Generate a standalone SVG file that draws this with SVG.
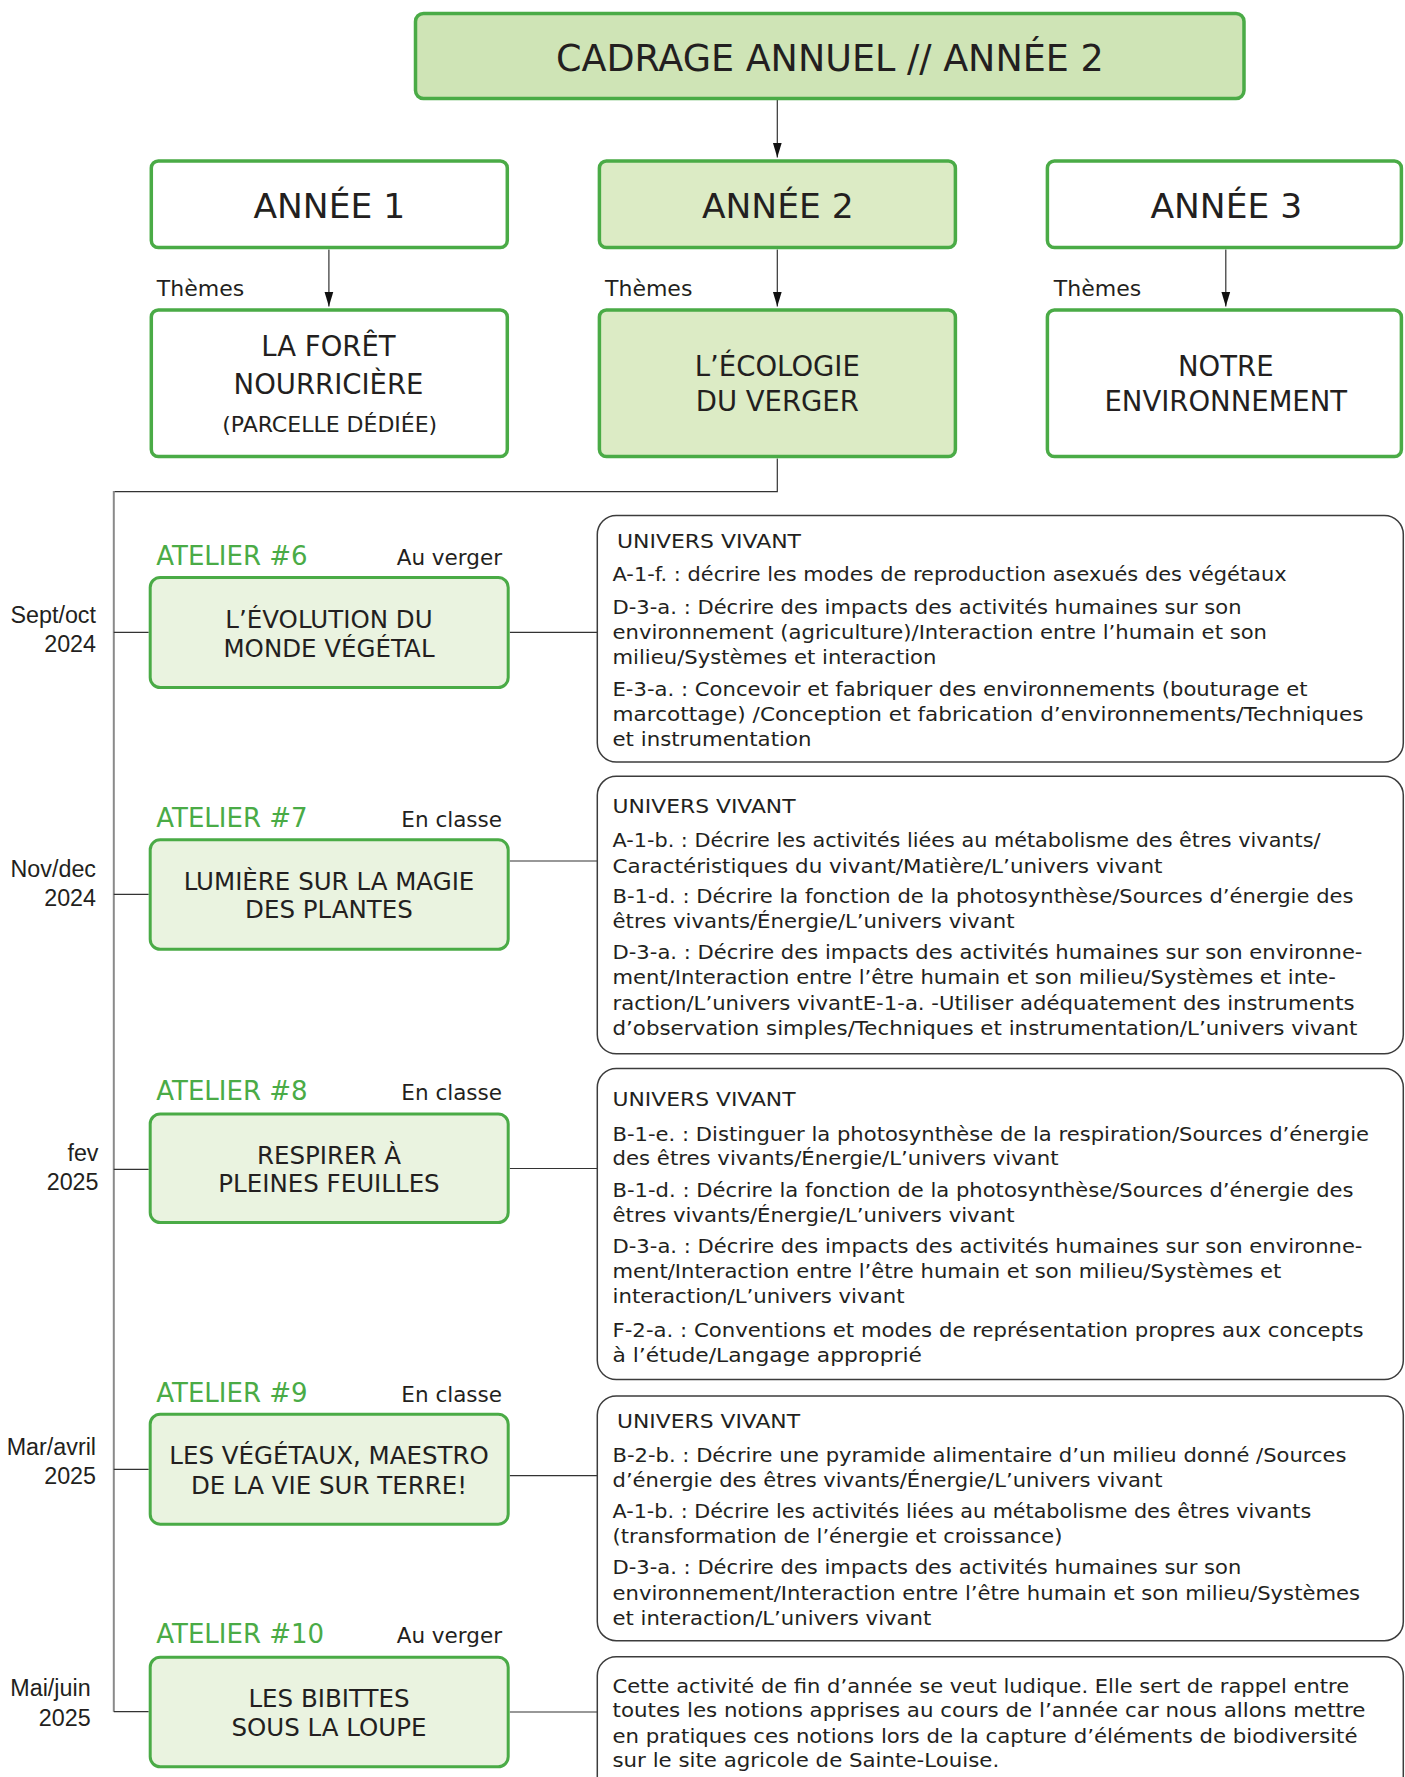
<svg xmlns="http://www.w3.org/2000/svg" width="1405" height="1777" viewBox="0 0 1405 1777">
<style>
.gbox{stroke:#4aab46;stroke-width:3.5}
.abox{fill:#eaf3e0;stroke:#4aab46;stroke-width:3}
.ibox{fill:#ffffff;stroke:#3c3c3c;stroke-width:1.5}
.t{font-family:"DejaVu Sans",sans-serif;fill:#231f20}
.big{font-size:34.5px;text-anchor:middle}
.theme{font-size:27.5px;text-anchor:middle}
.lab{font-size:22px}
.atl{font-family:"DejaVu Sans",sans-serif;font-size:26px;fill:#4aab46}
.loc{font-size:21.5px;text-anchor:end}
.an{font-size:24.5px;text-anchor:middle}
.body{font-size:19px}
.hd{font-size:20px}
.date{font-family:"Liberation Sans",Arial,sans-serif;font-size:23.3px;fill:#231f20;text-anchor:end}
.ln{fill:none;stroke:#333;stroke-width:1.2}
.vl{fill:none;stroke:#8a8a8a;stroke-width:2}
</style>
<defs>
<marker id="arrv" markerUnits="userSpaceOnUse" viewBox="0 0 15 10" markerWidth="15" markerHeight="10" refX="15" refY="5" orient="auto">
<path d="M0,0.5 L15,5 L0,9.5 Z" fill="#111"/>
</marker>
</defs>
<rect width="1405" height="1777" fill="#ffffff"/>

<g id="connectors">
<path class="ln" d="M777.3,100 V157.5" marker-end="url(#arrv)"/>
<path class="ln" d="M328.9,249.5 V306.5" marker-end="url(#arrv)"/>
<path class="ln" d="M777.3,249.5 V306.5" marker-end="url(#arrv)"/>
<path class="ln" d="M1225.8,249.5 V306.5" marker-end="url(#arrv)"/>
<path class="ln" d="M777.3,458.5 V491.7 H113.8"/>
<path class="vl" d="M113.8,491 V1711.7"/>
<path class="ln" d="M113.8,632.3 H148.7"/>
<path class="ln" d="M113.8,894.3 H148.7"/>
<path class="ln" d="M113.8,1169.3 H148.7"/>
<path class="ln" d="M113.8,1469.3 H148.7"/>
<path class="ln" d="M113.8,1711.7 H148.7"/>
<path class="ln" d="M509.8,632.3 H597.3"/>
<path class="ln" d="M509.8,861 H597.3"/>
<path class="ln" d="M509.8,1168.5 H597.3"/>
<path class="ln" d="M509.8,1475.7 H597.3"/>
<path class="ln" d="M509.8,1712 H597.3"/>
</g>

<g id="title">
<rect class="gbox" x="415.5" y="13.5" width="828.5" height="85" rx="8" fill="#cfe4b6"/>
<text class="t" x="829.8" y="70.7" font-size="36.5" text-anchor="middle">CADRAGE ANNUEL // ANNÉE 2</text>
</g>

<g id="annee1">
<rect class="gbox" x="151.3" y="161" width="356" height="86.5" rx="7" fill="#ffffff"/>
<text class="t big" x="329.3" y="218.3">ANNÉE 1</text>
</g>
<g id="annee2">
<rect class="gbox" x="599.4" y="161" width="356" height="86.5" rx="7" fill="#dcebc5"/>
<text class="t big" x="777.8" y="218.3">ANNÉE 2</text>
</g>
<g id="annee3">
<rect class="gbox" x="1047.4" y="161" width="354" height="86.5" rx="7" fill="#ffffff"/>
<text class="t big" x="1226.3" y="218.3">ANNÉE 3</text>
</g>

<g id="themes-labels">
<text class="t lab" x="156.8" y="296">Thèmes</text>
<text class="t lab" x="605" y="296">Thèmes</text>
<text class="t lab" x="1053.8" y="296">Thèmes</text>
</g>

<g id="theme1">
<rect class="gbox" x="151.3" y="310" width="356" height="146.5" rx="7" fill="#ffffff"/>
<text class="t theme" x="328.5" y="356">LA FORÊT</text>
<text class="t theme" x="328.5" y="394.3">NOURRICIÈRE</text>
<text class="t" x="329.7" y="431.7" font-size="22" text-anchor="middle">(PARCELLE DÉDIÉE)</text>
</g>
<g id="theme2">
<rect class="gbox" x="599.4" y="310" width="356" height="146.5" rx="7" fill="#dcebc5"/>
<text class="t theme" x="777.3" y="375.7">L’ÉCOLOGIE</text>
<text class="t theme" x="777.3" y="410.7">DU VERGER</text>
</g>
<g id="theme3">
<rect class="gbox" x="1047.4" y="310" width="354" height="146.5" rx="7" fill="#ffffff"/>
<text class="t theme" x="1225.8" y="375.7">NOTRE</text>
<text class="t theme" x="1225.8" y="410.7">ENVIRONNEMENT</text>
</g>

<g id="atelier6">
<text class="atl" x="156.3" y="565">ATELIER #6</text>
<text class="t loc" x="502" y="565">Au verger</text>
<rect class="abox" x="150.2" y="577.5" width="358" height="110" rx="10"/>
<text class="t an" x="329" y="628.3">L’ÉVOLUTION DU</text>
<text class="t an" x="329" y="656.7">MONDE VÉGÉTAL</text>
<text class="date" x="96" y="623.3">Sept/oct</text>
<text class="date" x="96" y="651.7">2024</text>
</g>

<g id="atelier7">
<text class="atl" x="156.3" y="826.7">ATELIER #7</text>
<text class="t loc" x="502" y="826.7">En classe</text>
<rect class="abox" x="150.2" y="839.8" width="358" height="109.5" rx="10"/>
<text class="t an" x="329" y="890">LUMIÈRE SUR LA MAGIE</text>
<text class="t an" x="329" y="918.3">DES PLANTES</text>
<text class="date" x="96" y="876.7">Nov/dec</text>
<text class="date" x="96" y="906">2024</text>
</g>

<g id="atelier8">
<text class="atl" x="156.3" y="1100">ATELIER #8</text>
<text class="t loc" x="502" y="1100">En classe</text>
<rect class="abox" x="150.2" y="1114" width="358" height="108.5" rx="10"/>
<text class="t an" x="329" y="1163.7">RESPIRER À</text>
<text class="t an" x="329" y="1192">PLEINES FEUILLES</text>
<text class="date" x="98.5" y="1161">fev</text>
<text class="date" x="98.5" y="1190">2025</text>
</g>

<g id="atelier9">
<text class="atl" x="156.3" y="1401.7">ATELIER #9</text>
<text class="t loc" x="502" y="1401.7">En classe</text>
<rect class="abox" x="150.2" y="1414.2" width="358" height="110" rx="10"/>
<text class="t an" x="329" y="1464">LES VÉGÉTAUX, MAESTRO</text>
<text class="t an" x="329" y="1494">DE LA VIE SUR TERRE!</text>
<text class="date" x="96" y="1455">Mar/avril</text>
<text class="date" x="96" y="1484">2025</text>
</g>

<g id="atelier10">
<text class="atl" x="156.3" y="1643.3">ATELIER #10</text>
<text class="t loc" x="502" y="1643.3">Au verger</text>
<rect class="abox" x="150.2" y="1657.2" width="358" height="109.6" rx="10"/>
<text class="t an" x="329" y="1707.3">LES BIBITTES</text>
<text class="t an" x="329" y="1736">SOUS LA LOUPE</text>
<text class="date" x="90.6" y="1696">Mai/juin</text>
<text class="date" x="90.6" y="1725.7">2025</text>
</g>

<g id="info6">
<rect class="ibox" x="597.3" y="515.5" width="806" height="246.5" rx="19"/>
<text class="t hd" x="617" y="547.5" textLength="184" lengthAdjust="spacingAndGlyphs">UNIVERS VIVANT</text>
<text class="t body" x="612.5" y="581.4" textLength="674" lengthAdjust="spacingAndGlyphs">A-1-f. : décrire les modes de reproduction asexués des végétaux</text>
<text class="t body" x="612.5" y="613.6" textLength="629" lengthAdjust="spacingAndGlyphs">D-3-a. : Décrire des impacts des activités humaines sur son</text>
<text class="t body" x="612.5" y="638.6" textLength="654.5" lengthAdjust="spacingAndGlyphs">environnement (agriculture)/Interaction entre l’humain et son</text>
<text class="t body" x="612.5" y="664.3" textLength="324" lengthAdjust="spacingAndGlyphs">milieu/Systèmes et interaction</text>
<text class="t body" x="612.5" y="695.7" textLength="695" lengthAdjust="spacingAndGlyphs">E-3-a. : Concevoir et fabriquer des environnements (bouturage et</text>
<text class="t body" x="612.5" y="720.7" textLength="751" lengthAdjust="spacingAndGlyphs">marcottage) /Conception et fabrication d’environnements/Techniques</text>
<text class="t body" x="612.5" y="746.4" textLength="199" lengthAdjust="spacingAndGlyphs">et instrumentation</text>
</g>

<g id="info7">
<rect class="ibox" x="597.3" y="776.3" width="806" height="277.5" rx="19"/>
<text class="t hd" x="612.5" y="812.9" textLength="183" lengthAdjust="spacingAndGlyphs">UNIVERS VIVANT</text>
<text class="t body" x="612.5" y="847" textLength="708" lengthAdjust="spacingAndGlyphs">A-1-b. : Décrire les activités liées au métabolisme des êtres vivants/</text>
<text class="t body" x="612.5" y="872.5" textLength="550" lengthAdjust="spacingAndGlyphs">Caractéristiques du vivant/Matière/L’univers vivant</text>
<text class="t body" x="612.5" y="902.9" textLength="741" lengthAdjust="spacingAndGlyphs">B-1-d. : Décrire la fonction de la photosynthèse/Sources d’énergie des</text>
<text class="t body" x="612.5" y="927.9" textLength="402" lengthAdjust="spacingAndGlyphs">êtres vivants/Énergie/L’univers vivant</text>
<text class="t body" x="612.5" y="959" textLength="750" lengthAdjust="spacingAndGlyphs">D-3-a. : Décrire des impacts des activités humaines sur son environne-</text>
<text class="t body" x="612.5" y="984" textLength="723.5" lengthAdjust="spacingAndGlyphs">ment/Interaction entre l’être humain et son milieu/Systèmes et inte-</text>
<text class="t body" x="612.5" y="1009.6" textLength="742" lengthAdjust="spacingAndGlyphs">raction/L’univers vivantE-1-a. -Utiliser adéquatement des instruments</text>
<text class="t body" x="612.5" y="1034.6" textLength="745" lengthAdjust="spacingAndGlyphs">d’observation simples/Techniques et instrumentation/L’univers vivant</text>
</g>

<g id="info8">
<rect class="ibox" x="597.3" y="1068.5" width="806" height="311" rx="19"/>
<text class="t hd" x="612.5" y="1106" textLength="183" lengthAdjust="spacingAndGlyphs">UNIVERS VIVANT</text>
<text class="t body" x="612.5" y="1141" textLength="756.6" lengthAdjust="spacingAndGlyphs">B-1-e. : Distinguer la photosynthèse de la respiration/Sources d’énergie</text>
<text class="t body" x="612.5" y="1165" textLength="446" lengthAdjust="spacingAndGlyphs">des êtres vivants/Énergie/L’univers vivant</text>
<text class="t body" x="612.5" y="1196.7" textLength="741" lengthAdjust="spacingAndGlyphs">B-1-d. : Décrire la fonction de la photosynthèse/Sources d’énergie des</text>
<text class="t body" x="612.5" y="1221.7" textLength="402" lengthAdjust="spacingAndGlyphs">êtres vivants/Énergie/L’univers vivant</text>
<text class="t body" x="612.5" y="1253.3" textLength="750" lengthAdjust="spacingAndGlyphs">D-3-a. : Décrire des impacts des activités humaines sur son environne-</text>
<text class="t body" x="612.5" y="1278.3" textLength="668.7" lengthAdjust="spacingAndGlyphs">ment/Interaction entre l’être humain et son milieu/Systèmes et</text>
<text class="t body" x="612.5" y="1303.3" textLength="292" lengthAdjust="spacingAndGlyphs">interaction/L’univers vivant</text>
<text class="t body" x="612.5" y="1336.7" textLength="751" lengthAdjust="spacingAndGlyphs">F-2-a. : Conventions et modes de représentation propres aux concepts</text>
<text class="t body" x="612.5" y="1361.7" textLength="309.4" lengthAdjust="spacingAndGlyphs">à l’étude/Langage approprié</text>
</g>

<g id="info9">
<rect class="ibox" x="597.3" y="1396" width="806" height="244.7" rx="19"/>
<text class="t hd" x="617" y="1427.7" textLength="183" lengthAdjust="spacingAndGlyphs">UNIVERS VIVANT</text>
<text class="t body" x="612.5" y="1461.7" textLength="734" lengthAdjust="spacingAndGlyphs">B-2-b. : Décrire une pyramide alimentaire d’un milieu donné /Sources</text>
<text class="t body" x="612.5" y="1487.3" textLength="550" lengthAdjust="spacingAndGlyphs">d’énergie des êtres vivants/Énergie/L’univers vivant</text>
<text class="t body" x="612.5" y="1518.3" textLength="698.7" lengthAdjust="spacingAndGlyphs">A-1-b. : Décrire les activités liées au métabolisme des êtres vivants</text>
<text class="t body" x="612.5" y="1543.3" textLength="450" lengthAdjust="spacingAndGlyphs">(transformation de l’énergie et croissance)</text>
<text class="t body" x="612.5" y="1574.3" textLength="628.8" lengthAdjust="spacingAndGlyphs">D-3-a. : Décrire des impacts des activités humaines sur son</text>
<text class="t body" x="612.5" y="1600" textLength="747.6" lengthAdjust="spacingAndGlyphs">environnement/Interaction entre l’être humain et son milieu/Systèmes</text>
<text class="t body" x="612.5" y="1625" textLength="318.8" lengthAdjust="spacingAndGlyphs">et interaction/L’univers vivant</text>
</g>

<g id="info10">
<rect class="ibox" x="597.3" y="1656.7" width="806" height="160" rx="19"/>
<text class="t body" x="612.5" y="1693.3" textLength="736.6" lengthAdjust="spacingAndGlyphs">Cette activité de fin d’année se veut ludique. Elle sert de rappel entre</text>
<text class="t body" x="612.5" y="1717.3" textLength="753" lengthAdjust="spacingAndGlyphs">toutes les notions apprises au cours de l’année car nous allons mettre</text>
<text class="t body" x="612.5" y="1742.7" textLength="745" lengthAdjust="spacingAndGlyphs">en pratiques ces notions lors de la capture d’éléments de biodiversité</text>
<text class="t body" x="612.5" y="1767.3" textLength="386.7" lengthAdjust="spacingAndGlyphs">sur le site agricole de Sainte-Louise.</text>
</g>
</svg>
